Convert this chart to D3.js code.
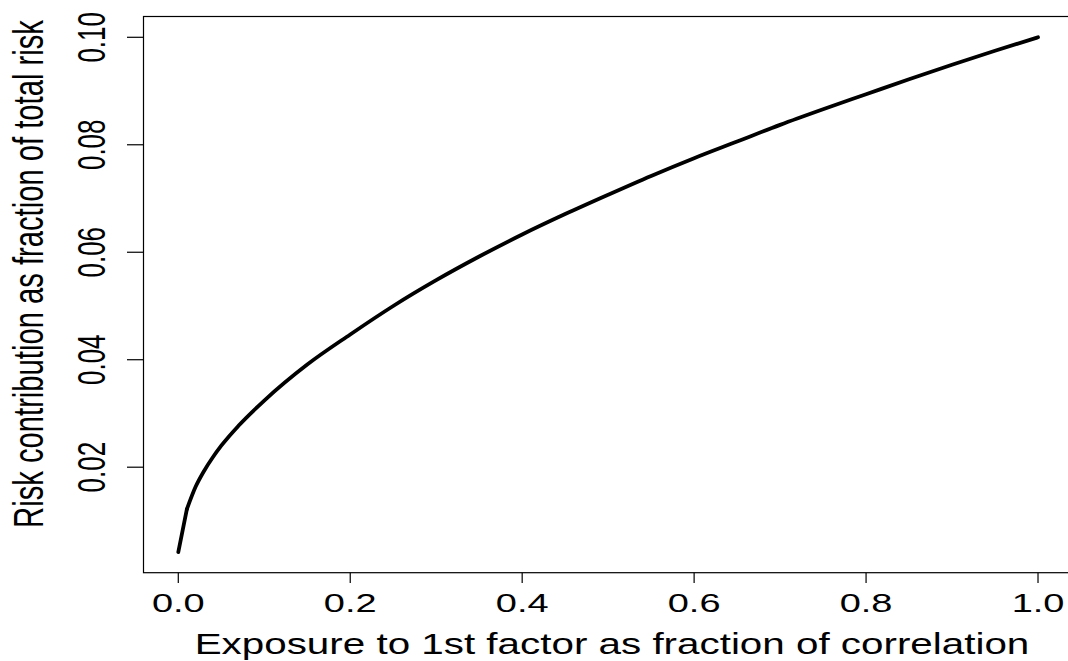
<!DOCTYPE html>
<html>
<head>
<meta charset="utf-8">
<script src="https://cdn.jsdelivr.net/npm/d3@7"></script>
<style>
  body { margin: 0; background: #fff; }
  svg { display: block; }
  text { font-family: "Liberation Sans", Arial, sans-serif; fill: #000; }
</style>
</head>
<body>
<svg width="1068" height="661"></svg>
<script>
// exposure to 1st factor (fraction of correlation)
var exposure = [0, 0.01, 0.02, 0.03, 0.04, 0.05, 0.07, 0.1, 0.15, 0.2, 0.25, 0.3, 0.35,
                0.4, 0.45, 0.5, 0.55, 0.6, 0.65, 0.7, 0.75, 0.8, 0.85, 0.9, 0.95, 1.0];
// risk contribution as fraction of total risk
var riskContrib = [0.0042, 0.0122, 0.0163, 0.0193, 0.0218, 0.0240, 0.0277, 0.0324, 0.0391,
                   0.0447, 0.0500, 0.0548, 0.0592, 0.0633, 0.0671, 0.0707, 0.0742, 0.0775,
                   0.0806, 0.0837, 0.0866, 0.0894, 0.0922, 0.0949, 0.0975, 0.1000];
var xTicks = [0, 0.2, 0.4, 0.6, 0.8, 1.0];
var yTicks = [0.02, 0.04, 0.06, 0.08, 0.10];

var data = exposure.map(function(d, i) { return { x: d, y: riskContrib[i] }; });

var svg = d3.select("svg");

// R style limits: data range padded by 4%
var xr = d3.extent(exposure), yr = d3.extent(riskContrib);
var xpad = (xr[1] - xr[0]) * 0.04, ypad = (yr[1] - yr[0]) * 0.04;

var x = d3.scaleLinear().domain([xr[0] - xpad, xr[1] + xpad]).range([143.9, 1072.4]);
var y = d3.scaleLinear().domain([yr[0] - ypad, yr[1] + ypad]).range([572.7, 16.7]);

// box
svg.append("rect")
   .attr("x", 143.5).attr("y", 16.5)
   .attr("width", 1072.4 - 143.5).attr("height", 572.7 - 16.5)
   .attr("fill", "none").attr("stroke", "#000").attr("stroke-width", 1.2);

// x axis ticks + labels
var gx = svg.append("g");
gx.selectAll("line").data(xTicks).enter().append("line")
  .attr("x1", function(d) { return x(d); }).attr("x2", function(d) { return x(d); })
  .attr("y1", 572.7).attr("y2", 583)
  .attr("stroke", "#000").attr("stroke-width", 1.2);
gx.selectAll("text").data(xTicks).enter().append("text")
  .attr("transform", function(d) { return "translate(" + x(d) + ",612) scale(1.46,1)"; })
  .attr("text-anchor", "middle")
  .attr("font-size", 26)
  .text(function(d) { return d3.format(".1f")(d); });

// y axis ticks + labels
var gy = svg.append("g");
gy.selectAll("line").data(yTicks).enter().append("line")
  .attr("x1", 127).attr("x2", 143.9)
  .attr("y1", function(d) { return y(d); }).attr("y2", function(d) { return y(d); })
  .attr("stroke", "#000").attr("stroke-width", 1.2);
gy.selectAll("text").data(yTicks).enter().append("text")
  .attr("transform", function(d) { return "translate(105," + y(d) + ") rotate(-90) scale(0.684,1)"; })
  .attr("text-anchor", "middle")
  .attr("font-size", 38)
  .text(function(d) { return d3.format(".2f")(d); });

// axis titles, squeezed/stretched along their length to fit the plot
function fitText(sel, len) {
  var w = sel.node().getComputedTextLength();
  return len / w;
}

var xTitle = svg.append("text")
   .attr("text-anchor", "middle")
   .attr("font-size", 29)
   .text("Exposure to 1st factor as fraction of correlation");
xTitle.attr("transform", "translate(612,654) scale(" + fitText(xTitle, 835) + ",1)");

var yTitle = svg.append("text")
   .attr("text-anchor", "middle")
   .attr("font-size", 42)
   .text("Risk contribution as fraction of total risk");
yTitle.attr("transform", "translate(43,274) rotate(-90) scale(" + fitText(yTitle, 508) + ",1)");

// the curve: straight first step, smooth after
var lineLin = d3.line().x(function(d) { return x(d.x); }).y(function(d) { return y(d.y); });
var lineSmooth = d3.line().curve(d3.curveMonotoneX)
  .x(function(d) { return x(d.x); }).y(function(d) { return y(d.y); });

svg.append("path").datum(data.slice(0, 2))
   .attr("d", lineLin)
   .attr("fill", "none").attr("stroke", "#000").attr("stroke-width", 3.8)
   .attr("stroke-linecap", "round");
svg.append("path").datum(data.slice(1))
   .attr("d", lineSmooth)
   .attr("fill", "none").attr("stroke", "#000").attr("stroke-width", 3.8)
   .attr("stroke-linecap", "round").attr("stroke-linejoin", "round");
</script>
</body>
</html>
